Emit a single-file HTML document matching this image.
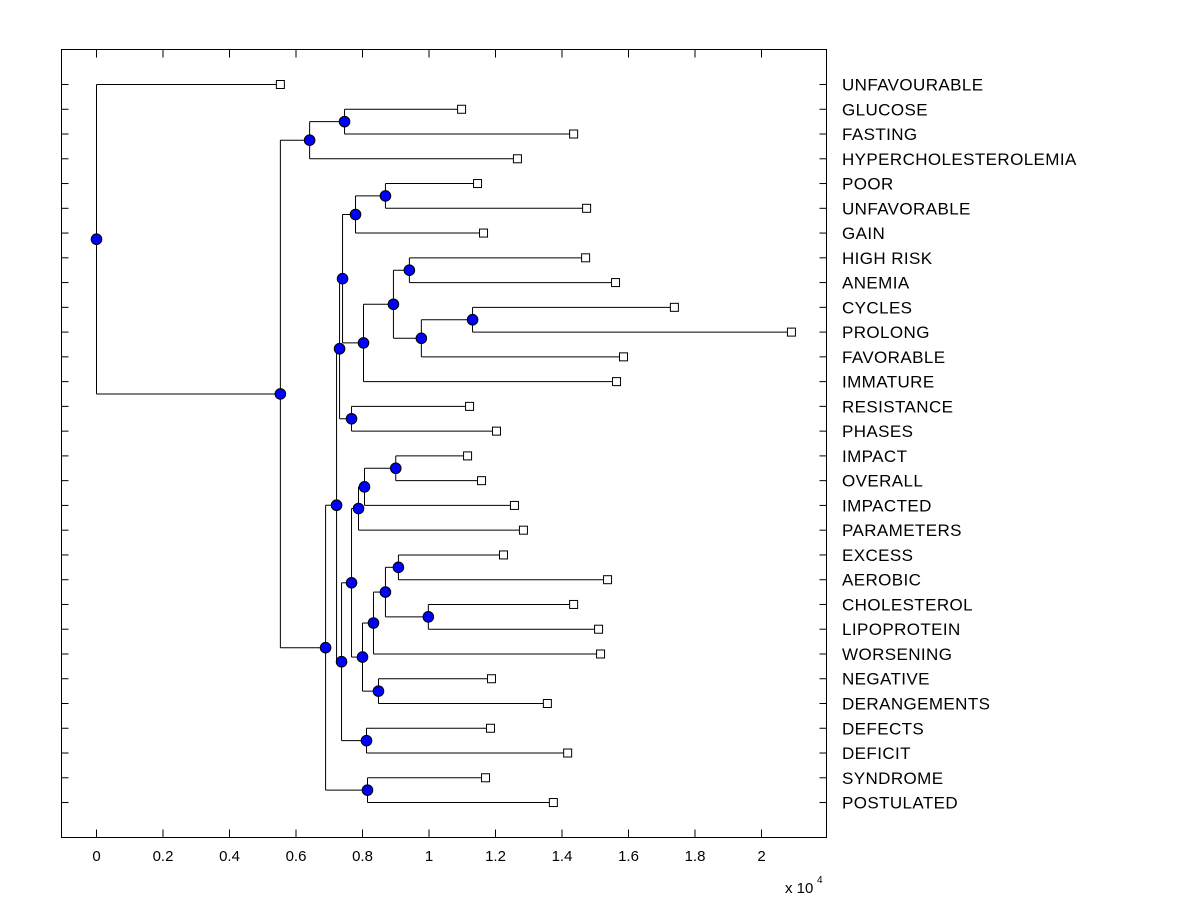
<!DOCTYPE html>
<html><head><meta charset="utf-8"><style>
body{margin:0;background:#fff;}
svg text{font-family:"Liberation Sans",Arial,sans-serif;fill:#000;}
</style></head><body>
<svg id="chart" width="1200" height="900" xmlns="http://www.w3.org/2000/svg">
<rect x="0" y="0" width="1200" height="900" fill="#fff"/>
<g id="axes"></g>
<g id="tree"></g>
</svg>
<script>
const labels=["UNFAVOURABLE","GLUCOSE","FASTING","HYPERCHOLESTEROLEMIA","POOR","UNFAVORABLE","GAIN","HIGH RISK","ANEMIA","CYCLES","PROLONG","FAVORABLE","IMMATURE","RESISTANCE","PHASES","IMPACT","OVERALL","IMPACTED","PARAMETERS","EXCESS","AEROBIC","CHOLESTEROL","LIPOPROTEIN","WORSENING","NEGATIVE","DERANGEMENTS","DEFECTS","DEFICIT","SYNDROME","POSTULATED"];
const leafValues=[0.553,1.098,1.435,1.266,1.146,1.474,1.164,1.471,1.561,1.738,2.090,1.585,1.564,1.122,1.203,1.116,1.158,1.257,1.284,1.224,1.537,1.435,1.510,1.516,1.188,1.356,1.185,1.417,1.170,1.374];
// internal nodes: id, left child, right child, height (x10^4). Leaf refs are "Lk".
const nodeIds=  ["D","B","L","J","N","P","O","M","K","H","I","E","U","T","S","Z","AA","Y","W","X","V","Q","R","G","CC","SP","C","A","ROOT"];
const nodeLeft= ["L1","D","L4","L","L7","L9","P","N","M","J","L13","H","L15","U","T","L19","L21","Z","Y","L24","W","S","L26","Q","E","L28","CC","B","L0"];
const nodeRight=["L2","L3","L5","L6","L8","L10","L11","O","L12","K","L14","I","L16","L17","L18","L20","L22","AA","L23","L25","X","V","L27","R","G","L29","SP","C","A"];
const nodeHeights=[0.746,0.641,0.869,0.779,0.941,1.131,0.977,0.893,0.803,0.740,0.767,0.731,0.900,0.806,0.788,0.908,0.998,0.869,0.833,0.848,0.800,0.767,0.812,0.737,0.722,0.815,0.689,0.553,0.0];
const xTicks=[0,0.2,0.4,0.6,0.8,1,1.2,1.4,1.6,1.8,2];

const NS="http://www.w3.org/2000/svg";
const L=61.5,R=826.5,T=49.5,B=837.5;
const xs=v=>96.5+v*332.5;
const rowY=i=>84.5+i*24.76;
const axes=document.getElementById('axes'),tree=document.getElementById('tree');
function mk(tag,attrs,parent){const e=document.createElementNS(NS,tag);for(const k in attrs)e.setAttribute(k,attrs[k]);parent.appendChild(e);return e;}
let e=mk('rect',{x:L,y:T,width:R-L,height:B-T,fill:'none',stroke:'#000','stroke-width':1},axes);


xTicks.forEach(t=>{const x=xs(t);
 mk('line',{x1:x,y1:B,x2:x,y2:B-8,stroke:'#000'},axes);
 mk('line',{x1:x,y1:T,x2:x,y2:T+8,stroke:'#000'},axes);
 const tx=mk('text',{x:x,y:861,'font-size':15,'text-anchor':'middle'},axes);tx.textContent=String(t);
 
 
});
let ex=mk('text',{x:785,y:893,'font-size':15},axes);ex.textContent='x 10';


let sup=mk('text',{x:817,y:883,'font-size':10},axes);sup.textContent='4';
labels.forEach((lb,i)=>{const y=rowY(i);
 mk('line',{x1:L,y1:y,x2:L+7,y2:y,stroke:'#000'},axes);
 mk('line',{x1:R,y1:y,x2:R-7,y2:y,stroke:'#000'},axes);
 const t=mk('text',{x:842,y:y+6,'font-size':17,'letter-spacing':0.4},axes);t.textContent=lb;
 
 
});
const pos={};
labels.forEach((lb,i)=>{pos['L'+i]={x:xs(leafValues[i]),y:rowY(i),leaf:true};});
const lines=mk('g',{},tree),marks=mk('g',{},tree);
nodeIds.forEach((id,k)=>{const a=pos[nodeLeft[k]],b=pos[nodeRight[k]];const x=xs(nodeHeights[k]);
 const y=(a.y+b.y)/2;pos[id]={x:x,y:y};
 mk('line',{x1:x,y1:a.y,x2:x,y2:b.y,stroke:'#000'},lines);
 mk('line',{x1:x,y1:a.y,x2:a.x,y2:a.y,stroke:'#000'},lines);
 mk('line',{x1:x,y1:b.y,x2:b.x,y2:b.y,stroke:'#000'},lines);
});
labels.forEach((lb,i)=>{const p=pos['L'+i];
 const r=mk('rect',{x:p.x-4,y:p.y-4,width:8,height:8,fill:'#fff',stroke:'#000'},marks);
 
 
});
nodeIds.forEach(id=>{const p=pos[id];
 const c=mk('circle',{cx:p.x,cy:p.y,r:5.3,fill:'#0000ff',stroke:'#000','stroke-width':1},marks);
 
 
});
</script>
</body></html>
